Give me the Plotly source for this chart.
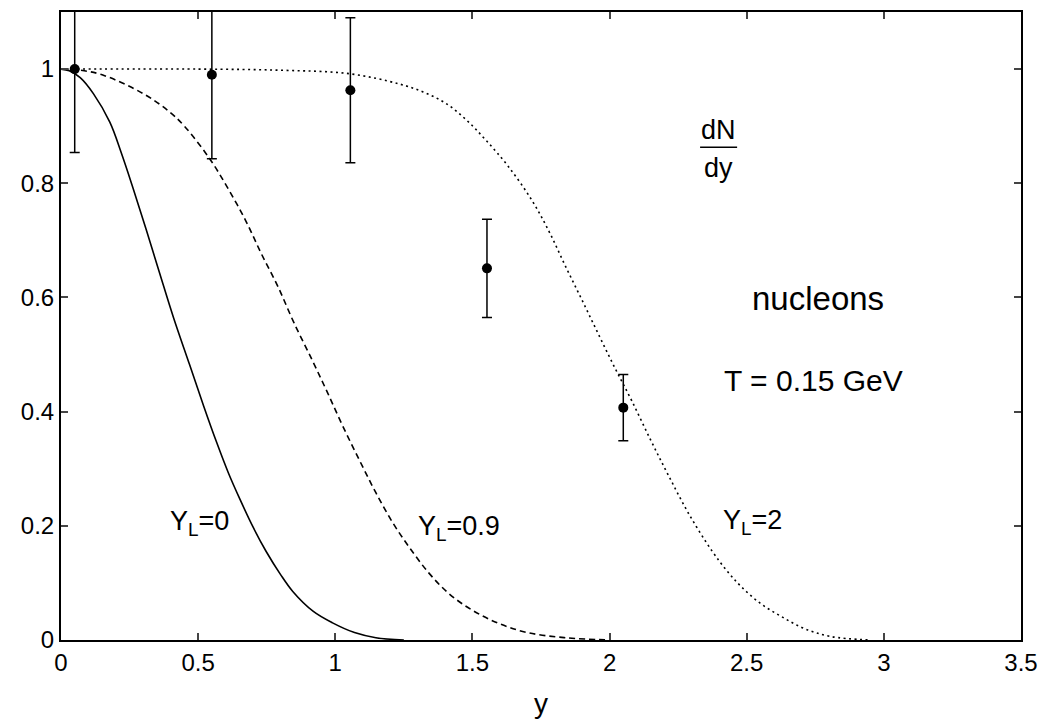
import plotly.graph_objects as go

# ---- data ----
# Y_L = 0 (solid)
yl0_x = [0.0, 0.03, 0.07, 0.118, 0.178, 0.22, 0.263, 0.31, 0.36, 0.41, 0.469, 0.52, 0.566, 0.61,
         0.651, 0.70, 0.748, 0.80, 0.845, 0.92, 0.99, 1.07, 1.148, 1.25]
yl0_y = [1.0, 0.997, 0.985, 0.957, 0.907, 0.853, 0.791, 0.72, 0.642, 0.565, 0.482, 0.41, 0.348, 0.293,
         0.248, 0.198, 0.155, 0.115, 0.085, 0.05, 0.03, 0.013, 0.004, 0.0]

# Y_L = 0.9 (dashed)
yl09_x = [0.0, 0.07, 0.15, 0.3, 0.396, 0.45, 0.542, 0.61, 0.675, 0.73, 0.79, 0.85, 0.917, 0.97, 1.027,
          1.09, 1.148, 1.21, 1.269, 1.34, 1.415, 1.50, 1.596, 1.70, 1.839, 2.0]
yl09_y = [1.0, 0.998, 0.99, 0.957, 0.925, 0.90, 0.843, 0.79, 0.733, 0.677, 0.62, 0.555, 0.489, 0.435, 0.375,
          0.313, 0.258, 0.205, 0.163, 0.118, 0.081, 0.052, 0.029, 0.013, 0.004, 0.0]

# Y_L = 2 (dotted)
yl2_x = [0.0, 0.5, 0.8, 1.05, 1.233, 1.32, 1.403, 1.48, 1.55, 1.63, 1.717, 1.78, 1.839, 1.90, 1.96,
         2.02, 2.081, 2.15, 2.215, 2.29, 2.372, 2.43, 2.481, 2.55, 2.627, 2.71, 2.808, 2.95]
yl2_y = [1.0, 1.0, 0.998, 0.992, 0.974, 0.96, 0.94, 0.91, 0.875, 0.83, 0.77, 0.715, 0.655, 0.595, 0.535,
         0.476, 0.419, 0.35, 0.288, 0.22, 0.157, 0.12, 0.093, 0.064, 0.041, 0.02, 0.006, 0.0]

# data points with symmetric errors
pt_x = [0.05, 0.55, 1.055, 1.553, 2.05]
pt_y = [1.0, 0.99, 0.963, 0.651, 0.407]
pt_err = [0.146, 0.147, 0.127, 0.086, 0.058]

x_ticks = [0, 0.5, 1, 1.5, 2, 2.5, 3, 3.5]
x_tick_labels = ["0", "0.5", "1", "1.5", "2", "2.5", "3", "3.5"]
y_ticks = [0, 0.2, 0.4, 0.6, 0.8, 1]
y_tick_labels = ["0", "0.2", "0.4", "0.6", "0.8", "1"]

FONT = "Liberation Sans, Arial, Helvetica, sans-serif"

fig = go.Figure()
fig.add_trace(go.Scatter(x=yl0_x, y=yl0_y, mode="lines",
                         line=dict(color="black", width=1.6, shape="spline", smoothing=1.0), showlegend=False))
fig.add_trace(go.Scatter(x=yl09_x, y=yl09_y, mode="lines",
                         line=dict(color="black", width=1.6, dash="6px,4px", shape="spline", smoothing=1.0), showlegend=False))
fig.add_trace(go.Scatter(x=yl2_x, y=yl2_y, mode="lines",
                         line=dict(color="black", width=1.6, dash="2px,3.5px", shape="spline", smoothing=1.0), showlegend=False))
fig.add_trace(go.Scatter(
    x=pt_x, y=pt_y, mode="markers",
    marker=dict(color="black", size=10),
    error_y=dict(type="data", array=pt_err, visible=True, color="black", thickness=1.5, width=5),
    showlegend=False))

lab_font = dict(family=FONT, size=27, color="black")
annotations = [
    dict(x=0.505, y=0.205, text="Y<sub>L</sub>=0", showarrow=False, font=lab_font),
    dict(x=1.45, y=0.197, text="Y<sub>L</sub>=0.9", showarrow=False, font=lab_font),
    dict(x=2.52, y=0.206, text="Y<sub>L</sub>=2", showarrow=False, font=lab_font),
    dict(x=2.76, y=0.599, text="nucleons", showarrow=False, font=dict(family=FONT, size=33, color="black")),
    dict(x=2.742, y=0.454, text="T = 0.15 GeV", showarrow=False, font=dict(family=FONT, size=30, color="black")),
    dict(x=2.396, y=0.894, text="dN", showarrow=False, font=lab_font),
    dict(x=2.396, y=0.827, text="dy", showarrow=False, font=lab_font),
]

fig.update_layout(
    width=1048, height=727,
    margin=dict(l=61, r=25, t=10, b=87),
    paper_bgcolor="white", plot_bgcolor="white",
    font=dict(family=FONT, size=24, color="black"),
    annotations=annotations,
    shapes=[dict(type="line", xref="x", yref="y", x0=2.33, x1=2.465, y0=0.863, y1=0.863,
                 line=dict(color="black", width=1.5))],
    xaxis=dict(range=[0, 3.5], tickvals=x_ticks, ticktext=x_tick_labels, ticks="inside", ticklen=7, tickwidth=1.5,
               showline=True, linecolor="black", linewidth=2, mirror="ticks", showgrid=False, zeroline=False,
               title=dict(text="y", font=dict(size=28), standoff=19)),
    yaxis=dict(range=[0, 1.1], tickvals=y_ticks, ticktext=y_tick_labels, ticks="inside", ticklen=7, tickwidth=1.5,
               showline=True, linecolor="black", linewidth=2, mirror="ticks", showgrid=False, zeroline=False),
)

fig.write_html("out.html")
